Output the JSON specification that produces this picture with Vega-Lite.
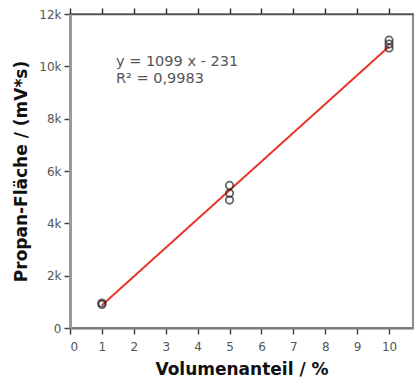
{
  "$schema": "https://vega.github.io/schema/vega-lite/v6.json",
  "autosize": "none",
  "width": 343,
  "height": 314,
  "padding": {"left": 70, "top": 14, "right": 3, "bottom": 53},
  "background": "white",
  "config": {
    "view": {"stroke": "#666666", "strokeWidth": 1.5},
    "font": "DejaVu Sans"
  },
  "datasets": {
    "points": [
      {"vol": 1, "area": 955},
      {"vol": 1, "area": 900},
      {"vol": 5, "area": 5450},
      {"vol": 5, "area": 5150},
      {"vol": 5, "area": 4890},
      {"vol": 10, "area": 11000},
      {"vol": 10, "area": 10850},
      {"vol": 10, "area": 10700}
    ],
    "fit": [
      {"vol": 1, "area": 868},
      {"vol": 10, "area": 10759}
    ],
    "eq": [
      {"vol": 1.44, "area": 10450}
    ]
  },
  "layer": [
    {
      "data": {"name": "fit"},
      "mark": {"type": "line", "color": "#e8352a", "strokeWidth": 2},
      "encoding": {
        "x": {
          "field": "vol", "type": "quantitative",
          "scale": {"domain": [0, 10.75], "nice": false, "zero": false},
          "axis": {
            "title": "Volumenanteil / %",
            "titleFont": "DejaVu Sans", "titleFontSize": 17, "titleFontWeight": "bold", "titleColor": "#111111", "titlePadding": 9,
            "values": [0, 1, 2, 3, 4, 5, 6, 7, 8, 9, 10],
            "labelFont": "DejaVu Sans", "labelFontSize": 12, "labelColor": "#555555", "labelPadding": 7,
            "domainColor": "#777777", "domainWidth": 2,
            "tickColor": "#444444", "tickWidth": 1.5, "tickSize": 6, "grid": false
          }
        },
        "y": {
          "field": "area", "type": "quantitative",
          "scale": {"domain": [0, 12000], "nice": false},
          "axis": {
            "title": "Propan-Fläche / (mV*s)",
            "titleFont": "DejaVu Sans", "titleFontSize": 17, "titleFontWeight": "bold", "titleColor": "#111111", "titlePadding": 8,
            "values": [0, 2000, 4000, 6000, 8000, 10000, 12000],
            "labelExpr": "datum.value == 0 ? '0' : format(datum.value / 1000, 'd') + 'k'",
            "labelFont": "DejaVu Sans", "labelFontSize": 12, "labelColor": "#555555", "labelPadding": 3,
            "domainColor": "#999999", "domainWidth": 3,
            "tickColor": "#444444", "tickWidth": 1.5, "tickSize": 6, "grid": false
          }
        }
      }
    },
    {
      "data": {"name": "points"},
      "mark": {"type": "point", "shape": "circle", "filled": false, "stroke": "#222222", "strokeWidth": 1.8, "size": 55},
      "encoding": {
        "x": {"field": "vol", "type": "quantitative", "scale": {"domain": [0, 10.75], "nice": false, "zero": false}, "axis": {"orient": "top", "labels": false, "ticks": true, "domain": true, "title": null, "values": [0, 1, 2, 3, 4, 5, 6, 7, 8, 9, 10], "domainColor": "#555555", "domainWidth": 1.5, "tickColor": "#333333", "tickWidth": 1.5, "tickSize": 6, "grid": false}},
        "y": {"field": "area", "type": "quantitative"}
      }
    },
    {
      "data": {"name": "eq"},
      "mark": {"type": "text", "align": "left", "baseline": "top", "font": "DejaVu Sans", "fontSize": 14.5, "color": "#555555", "lineHeight": 17, "text": ["y = 1099 x - 231", "R² = 0,9983"]},
      "encoding": {
        "x": {"field": "vol", "type": "quantitative", "scale": {"domain": [0, 10.75], "nice": false, "zero": false}, "axis": null},
        "y": {"field": "area", "type": "quantitative"}
      }
    }
  ],
  "resolve": {"scale": {"x": "independent"}, "axis": {"x": "independent"}}
}
